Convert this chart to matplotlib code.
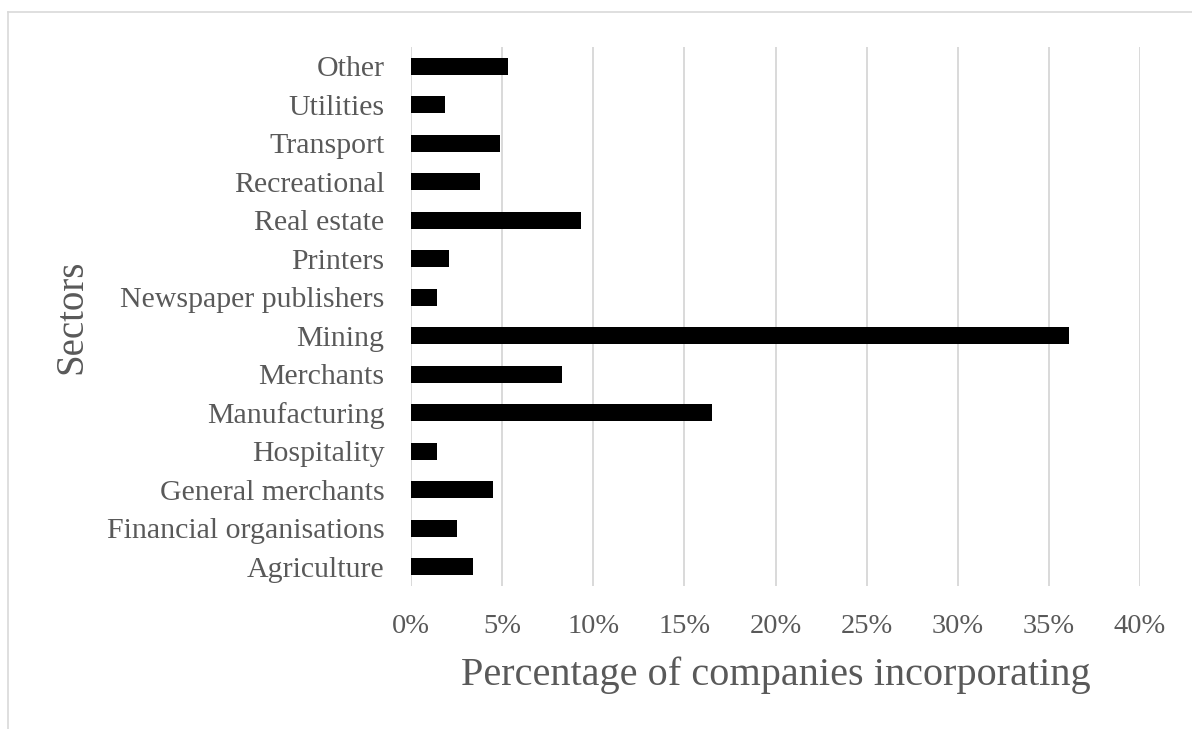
import matplotlib
matplotlib.use("Agg")
import matplotlib.pyplot as plt
from matplotlib.lines import Line2D
from matplotlib.ticker import FuncFormatter

sectors = ['Agriculture', 'Financial organisations', 'General merchants',
           'Hospitality', 'Manufacturing', 'Merchants', 'Mining',
           'Newspaper publishers', 'Printers', 'Real estate', 'Recreational',
           'Transport', 'Utilities', 'Other']
share = [3.4, 2.55, 4.5, 1.45, 16.5, 8.3, 36.1,
         1.45, 2.1, 9.3, 3.8, 4.9, 1.85, 5.3]
xticks = [0, 5, 10, 15, 20, 25, 30, 35, 40]

plt.rcParams['font.family'] = ['Liberation Serif', 'DejaVu Serif']
grey = '#595959'

fig = plt.figure(figsize=(11.92, 7.29), dpi=100)
ax = fig.add_axes([0.3448, 0.1962, 0.6116, 0.7393])

ypos = list(range(len(sectors)))
ax.barh(ypos, share, height=0.45, color='black', zorder=3)

ax.set_xlim(0, 40)
ax.set_ylim(-0.5, len(sectors) - 0.5)
ax.set_xticks(xticks)
ax.xaxis.set_major_formatter(FuncFormatter(lambda v, p: '%d%%' % v))
ax.set_yticks(ypos)
ax.set_yticklabels(sectors)
ax.tick_params(length=0, labelcolor=grey)
ax.tick_params(axis='x', pad=20, labelsize=20.5)
ax.tick_params(axis='y', pad=19, labelsize=21.5)
ax.grid(axis='x', color='#d9d9d9', linewidth=1.4, zorder=0)
for s in ax.spines.values():
    s.set_visible(False)

ax.set_xlabel('Percentage of companies incorporating', fontsize=29,
              color=grey, labelpad=12.5)
ax.set_ylabel('Sectors', fontsize=28, color=grey, labelpad=12)

# thin outer frame (top and left edges)
fig.add_artist(Line2D([8 / 1192, 1.0], [1 - 12 / 729, 1 - 12 / 729],
                      color='#d9d9d9', linewidth=1.2))
fig.add_artist(Line2D([8 / 1192, 8 / 1192], [0.0, 1 - 12 / 729],
                      color='#d9d9d9', linewidth=1.2))

fig.savefig('out.png', dpi=100)
